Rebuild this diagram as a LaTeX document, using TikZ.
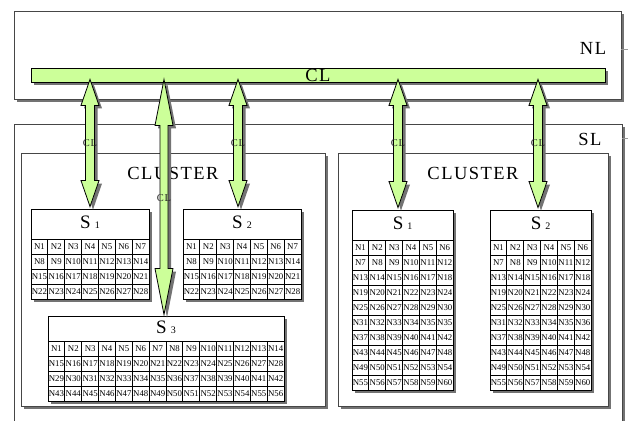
\documentclass[tikz,border=0pt]{standalone}
\usepackage{fontspec}
\setmainfont{Liberation Serif}
\newfontfamily\spacedfont[LetterSpace=8]{Liberation Serif}
\usetikzlibrary{shadows,calc,fit}
\definecolor{clgreen}{RGB}{204,255,153}
\definecolor{boxline}{RGB}{70,70,70}
\tikzset{
  shad/.style={drop shadow={shadow xshift=3pt,shadow yshift=-3pt,fill=black!55,opacity=1}},
  layerbox/.style={draw=boxline,fill=white,line width=0.8pt,shad,inner sep=0pt},
  barbox/.style={draw=black,fill=clgreen,line width=0.8pt,shad,inner sep=0pt},
  tabbox/.style={draw=black,fill=white,line width=0.9pt,shad,inner sep=0pt},
  gridline/.style={draw=black,line width=0.8pt},
  arrsty/.style={draw=black,fill=clgreen,line width=0.8pt,line join=miter,shad},
  biglbl/.style={inner sep=0pt,font=\spacedfont\fontsize{18.5}{18.5}\selectfont},
  smalllbl/.style={inner sep=0pt,text=black!85,font=\spacedfont\fontsize{10.5}{10.5}\selectfont},
  celltxt/.style={inner sep=0pt,font=\fontsize{8.8}{8.8}\selectfont},
  ticksty/.style={draw=black!40,line width=0.6pt}
}
% #1 name, #2 x, #3 y, #4 cols, #5 rows, #6 digit, #7 title height, #8 typo cell
\newcommand\stab[8]{%
  \pgfmathsetmacro\tabw{#4*16.86}%
  \pgfmathsetmacro\tabh{#7+#5*15}%
  \node[tabbox,fit={(#2,#3) ({#2+\tabw},{#3+\tabh})}] (#1) {};
  \node[inner sep=0pt,anchor=base] (#1-t) at ({#2+\tabw/2},{#3+#7/2+4.5})
     {\fontsize{19}{19}\selectfont S\hspace{4pt}\fontsize{10}{10}\selectfont #6};
  \foreach \r in {1,...,#5}{\draw[gridline] (#2,{#3+#7+(\r-1)*15}) -- ({#2+\tabw},{#3+#7+(\r-1)*15});}
  \foreach \c in {1,...,#4}{\draw[gridline] ({#2+\c*16.86},{#3+#7}) -- ({#2+\c*16.86},{#3+\tabh});}
  \foreach \r in {1,...,#5}{\foreach \c in {1,...,#4}{%
    \pgfmathtruncatemacro\cn{(\r-1)*#4+\c}%
    \pgfmathtruncatemacro\lab{\cn==#8 ? \cn-1 : \cn}%
    \node[celltxt] (#1-\cn) at ({#2+(\c-0.5)*16.86},{#3+#7+(\r-0.5)*15}) {N\lab};
  }}
}
% #1 top coord, #2 bottom coord, #3 head length, #4 head half width, #5 shaft half width
\newcommand\dblarr[5]{%
  \path[arrsty] let \p1=(#1), \p2=(#2) in
    (\x1,{\y1+3pt}) -- ({\x1+#4},{\y1+3pt-#3}) -- ({\x1+#5},{\y1+3pt-#3})
    -- ({\x1+#5},{\y2+2pt+#3}) -- ({\x1+#4},{\y2+2pt+#3}) -- (\x1,{\y2+2pt})
    -- ({\x1-#4},{\y2+2pt+#3}) -- ({\x1-#5},{\y2+2pt+#3})
    -- ({\x1-#5},{\y1+3pt-#3}) -- ({\x1-#4},{\y1+3pt-#3}) -- cycle;
}
\begin{document}
\begin{tikzpicture}[x=1pt,y=-1pt]
\clip (0,0) rectangle (628,420);
\fill[white] (0,0) rectangle (628,420);
% NL layer
\node[layerbox,fit={(14,11) (621,99)}] (nl) {};
\node[biglbl,anchor=base] (nltxt) at (593,55) {NL};
\draw[ticksty] (nl.east |- 0,49) -- ++(7,0);
\node[barbox,fit={(31,68) (605,82)}] (cl) {};
\node[biglbl] (cltxt) at (cl.center) {CL};
% SL layer
\node[layerbox,fit={(14,124) (622,440)}] (sl) {};
\node[biglbl,anchor=base] (sltxt) at (590,145) {SL};
\draw[ticksty] (sl.east |- 0,138) -- ++(7,0);
% clusters
\node[layerbox,fit={(21,153) (325,406)}] (c1) {};
\node[biglbl,anchor=base] (c1txt) at (173,179) {CLUSTER};
\node[layerbox,fit={(338,153) (608,406)}] (c2) {};
\node[biglbl,anchor=base] (c2txt) at (473,179) {CLUSTER};
% tables
\stab{sa}{31}{209}{7}{4}{1}{30}{0}
\stab{sb}{183}{209}{7}{4}{2}{30}{0}
\stab{sc}{48}{316}{14}{4}{3}{25}{0}
\stab{sd}{352}{210}{6}{10}{1}{30}{36}
\stab{se}{490}{210}{6}{10}{2}{30}{0}
% arrows
\coordinate (xa) at (90,0);
\coordinate (xb) at (164,0);
\coordinate (xc) at (238,0);
\coordinate (xd) at (398,0);
\coordinate (xe) at (538,0);
\coordinate (ta) at (cl.south -| xa);
\coordinate (tb) at (cl.south -| xb);
\coordinate (tc) at (cl.south -| xc);
\coordinate (td) at (cl.south -| xd);
\coordinate (te) at (cl.south -| xe);
\coordinate (ba) at (sa.north -| xa);
\coordinate (bb) at ([yshift=-1pt]sc.north -| xb);
\coordinate (bc) at (sb.north -| xc);
\coordinate (bd) at (sd.north -| xd);
\coordinate (be) at (se.north -| xe);
\dblarr{ta}{ba}{26pt}{9pt}{4.5pt}
\dblarr{tb}{bb}{46pt}{9pt}{4pt}
\dblarr{tc}{bc}{26pt}{9pt}{4.5pt}
\dblarr{td}{bd}{26pt}{9pt}{4.5pt}
\dblarr{te}{be}{26pt}{9pt}{4.5pt}
\node[smalllbl,anchor=base] (la) at (90,146.5) {CL};
\node[smalllbl,anchor=base] (lb) at (164,201.5) {CL};
\node[smalllbl,anchor=base] (lc) at (238,146.5) {CL};
\node[smalllbl,anchor=base] (ld) at (398,146.5) {CL};
\node[smalllbl,anchor=base] (le) at (538,146.5) {CL};
\end{tikzpicture}
\end{document}
